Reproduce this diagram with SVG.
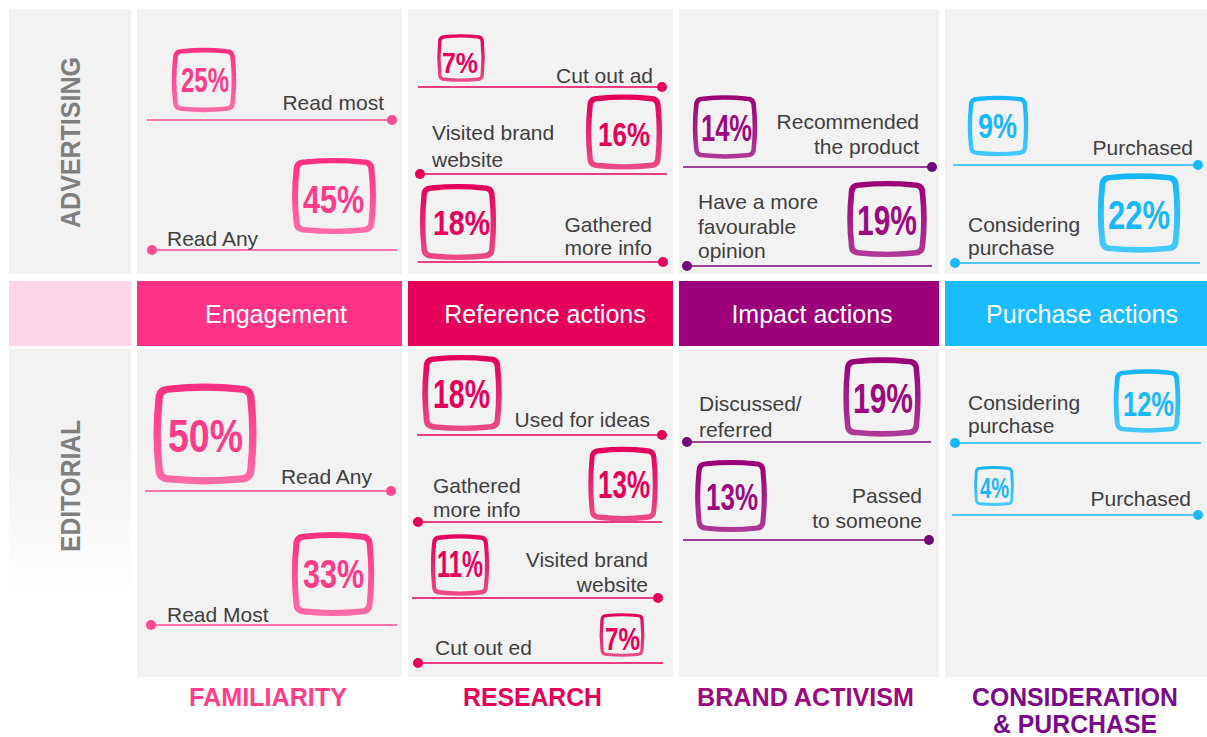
<svg xmlns="http://www.w3.org/2000/svg" xmlns:xlink="http://www.w3.org/1999/xlink" width="1207" height="737" viewBox="0 0 1207 737">
<style>
.cell{fill:#f2f2f2}
.lbl{font-family:"Liberation Sans",Arial,sans-serif;font-size:21px;fill:#404040}
.end{text-anchor:end}
.hdr{font-family:"Liberation Sans",Arial,sans-serif;font-size:25px;fill:#ffffff;text-anchor:middle}
.pct{font-family:"Liberation Sans",Arial,sans-serif;font-weight:bold}
.side{font-family:"Liberation Sans",Arial,sans-serif;font-weight:bold;font-size:28px;fill:#7f7f7f}
.cat{font-family:"Liberation Sans",Arial,sans-serif;font-weight:bold;font-size:25px}
.pk{stroke:#ff4a93;fill:none;stroke-width:1.6}
.rd{stroke:#e5005a;fill:none;stroke-width:1.6}
.pu{stroke:#780a7e;fill:none;stroke-width:1.6}
.bl{stroke:#1ab8f8;fill:none;stroke-width:1.6}
.dpk{fill:#ff4a93}.drd{fill:#e5005a}.dpu{fill:#6e0a76}.dbl{fill:#1ab8f8}
.bpk{stroke:url(#gpk)}.brd{stroke:url(#grd)}.bpu{stroke:url(#gpu)}.bbl{stroke:url(#gbl)}
.tpk{fill:#ff3a8a}.trd{fill:#e5005a}.tpu{fill:#9c0a80}.tbl{fill:#1ab8f8}
</style>
<defs>
<linearGradient id="gpk" x1="0" y1="0" x2="0" y2="1"><stop offset="0" stop-color="#ff2f83"/><stop offset="1" stop-color="#ff6aa8"/></linearGradient>
<linearGradient id="grd" x1="0" y1="0" x2="0" y2="1"><stop offset="0" stop-color="#e3005a"/><stop offset="1" stop-color="#ea4a86"/></linearGradient>
<linearGradient id="gpu" x1="0" y1="0" x2="0" y2="1"><stop offset="0" stop-color="#9a0078"/><stop offset="1" stop-color="#ad3896"/></linearGradient>
<linearGradient id="gbl" x1="0" y1="0" x2="0" y2="1"><stop offset="0" stop-color="#16b6f8"/><stop offset="1" stop-color="#44c8ff"/></linearGradient>
<linearGradient id="gfade" x1="0" y1="0" x2="0" y2="1"><stop offset="0" stop-color="#f2f2f2"/><stop offset="0.3" stop-color="#f2f2f2"/><stop offset="0.75" stop-color="#ffffff"/></linearGradient>
<path id="badge" d="M -38,-50 Q 0,-54 38,-50 Q 50,-50 50,-38 Q 54,0 50,38 Q 50,50 38,50 Q 0,54 -38,50 Q -50,50 -50,38 Q -54,0 -50,-38 Q -50,-50 -38,-50 Z" fill="none" stroke-width="8"/>
</defs>
<rect width="1207" height="737" fill="#ffffff"/>

<g id="row-labels">
<rect x="9" y="9" width="122" height="265" class="cell"/>
<rect x="9" y="281" width="122" height="65" fill="#ffd6e9"/>
<rect x="9" y="349" width="122" height="328" fill="url(#gfade)"/>
<text class="side" transform="translate(80,228) rotate(-90)" textLength="171" lengthAdjust="spacingAndGlyphs">ADVERTISING</text>
<text class="side" transform="translate(80,552) rotate(-90)" textLength="132" lengthAdjust="spacingAndGlyphs">EDITORIAL</text>
</g>

<g id="headers">
<rect x="137" y="281" width="265" height="65" fill="#ff3385"/>
<rect x="408" y="281" width="265" height="65" fill="#e5005a"/>
<rect x="679" y="281" width="260" height="65" fill="#9c007a"/>
<rect x="945" y="281" width="262" height="65" fill="#1abcfe"/>
<text class="hdr" x="276" y="323">Engagement</text>
<text class="hdr" x="545" y="323">Reference actions</text>
<text class="hdr" x="812" y="323">Impact actions</text>
<text class="hdr" x="1082" y="323">Purchase actions</text>
</g>

<g id="cells">
<rect x="137" y="9" width="265" height="265" class="cell"/>
<rect x="408" y="9" width="265" height="265" class="cell"/>
<rect x="679" y="9" width="260" height="265" class="cell"/>
<rect x="945" y="9" width="262" height="265" class="cell"/>
<rect x="137" y="349" width="265" height="328" class="cell"/>
<rect x="408" y="349" width="265" height="328" class="cell"/>
<rect x="679" y="349" width="260" height="328" class="cell"/>
<rect x="945" y="349" width="262" height="328" class="cell"/>
</g>

<g id="connectors">
<line class="pk" x1="147" y1="120" x2="392" y2="120"/><circle class="dpk" cx="392" cy="120" r="5"/>
<line class="pk" x1="152" y1="250" x2="397" y2="250"/><circle class="dpk" cx="152" cy="250" r="5"/>
<line class="rd" x1="418" y1="87" x2="662" y2="87"/><circle class="drd" cx="662" cy="87" r="5"/>
<line class="rd" x1="420" y1="174" x2="667" y2="174"/><circle class="drd" cx="420" cy="174" r="5"/>
<line class="rd" x1="418" y1="262" x2="663" y2="262"/><circle class="drd" cx="663" cy="262" r="5"/>
<line class="pu" x1="683" y1="167" x2="932" y2="167"/><circle class="dpu" cx="932" cy="167" r="5"/>
<line class="pu" x1="687" y1="266" x2="932" y2="266"/><circle class="dpu" cx="687" cy="266" r="5"/>
<line class="bl" x1="953" y1="165" x2="1198" y2="165"/><circle class="dbl" cx="1198" cy="165" r="5"/>
<line class="bl" x1="955" y1="263" x2="1200" y2="263"/><circle class="dbl" cx="955" cy="263" r="5"/>
<line class="pk" x1="145" y1="491" x2="391" y2="491"/><circle class="dpk" cx="391" cy="491" r="5"/>
<line class="pk" x1="151" y1="625" x2="397" y2="625"/><circle class="dpk" cx="151" cy="625" r="5"/>
<line class="rd" x1="417" y1="435" x2="662" y2="435"/><circle class="drd" cx="662" cy="435" r="5"/>
<line class="rd" x1="418" y1="522" x2="662" y2="522"/><circle class="drd" cx="418" cy="522" r="5"/>
<line class="rd" x1="412" y1="598" x2="658" y2="598"/><circle class="drd" cx="658" cy="598" r="5"/>
<line class="rd" x1="418" y1="663" x2="663" y2="663"/><circle class="drd" cx="418" cy="663" r="5"/>
<line class="pu" x1="687" y1="442" x2="931" y2="442"/><circle class="dpu" cx="687" cy="442" r="5"/>
<line class="pu" x1="683" y1="540" x2="929" y2="540"/><circle class="dpu" cx="929" cy="540" r="5"/>
<line class="bl" x1="955" y1="443" x2="1201" y2="443"/><circle class="dbl" cx="955" cy="443" r="5"/>
<line class="bl" x1="952" y1="515" x2="1198" y2="515"/><circle class="dbl" cx="1198" cy="515" r="5"/>
</g>

<g id="adv-familiarity">
<use xlink:href="#badge" class="bpk" transform="translate(204,80) scale(0.575,0.575)"/>
<text class="pct tpk" x="181" y="92" font-size="35" textLength="48" lengthAdjust="spacingAndGlyphs">25%</text>
<text class="lbl end" x="384" y="110">Read most</text>
<use xlink:href="#badge" class="bpk" transform="translate(334,196) scale(0.75,0.68)"/>
<text class="pct tpk" x="303" y="213" font-size="39" textLength="61" lengthAdjust="spacingAndGlyphs">45%</text>
<text class="lbl" x="167" y="246">Read Any</text>
</g>

<g id="adv-research">
<use xlink:href="#badge" class="brd" transform="translate(461,58) scale(0.425,0.425)"/>
<text class="pct trd" x="442" y="73" font-size="29" textLength="36" lengthAdjust="spacingAndGlyphs">7%</text>
<text class="lbl end" x="653" y="83">Cut out ad</text>
<use xlink:href="#badge" class="brd" transform="translate(624,132) scale(0.68,0.67)"/>
<text class="pct trd" x="598" y="146" font-size="34" textLength="52" lengthAdjust="spacingAndGlyphs">16%</text>
<text class="lbl" x="432" y="140">Visited brand</text>
<text class="lbl" x="432" y="167">website</text>
<use xlink:href="#badge" class="brd" transform="translate(458,222) scale(0.68,0.68)"/>
<text class="pct trd" x="433" y="235" font-size="35" textLength="57" lengthAdjust="spacingAndGlyphs">18%</text>
<text class="lbl end" x="652" y="232">Gathered</text>
<text class="lbl end" x="652" y="255">more info</text>
</g>

<g id="adv-brand-activism">
<use xlink:href="#badge" class="bpu" transform="translate(725,127) scale(0.575,0.567)"/>
<text class="pct tpu" x="701" y="141" font-size="36" textLength="51" lengthAdjust="spacingAndGlyphs">14%</text>
<text class="lbl end" x="919" y="129">Recommended</text>
<text class="lbl end" x="919" y="154">the product</text>
<use xlink:href="#badge" class="bpu" transform="translate(887,219) scale(0.71,0.68)"/>
<text class="pct tpu" x="857" y="235" font-size="42" textLength="60" lengthAdjust="spacingAndGlyphs">19%</text>
<text class="lbl" x="698" y="209">Have a more</text>
<text class="lbl" x="698" y="234">favourable</text>
<text class="lbl" x="698" y="258">opinion</text>
</g>

<g id="adv-consideration">
<use xlink:href="#badge" class="bbl" transform="translate(998,126) scale(0.54,0.54)"/>
<text class="pct tbl" x="978" y="138" font-size="35" textLength="39" lengthAdjust="spacingAndGlyphs">9%</text>
<text class="lbl end" x="1193" y="155">Purchased</text>
<use xlink:href="#badge" class="bbl" transform="translate(1139,213) scale(0.735,0.71)"/>
<text class="pct tbl" x="1108" y="229" font-size="41" textLength="62" lengthAdjust="spacingAndGlyphs">22%</text>
<text class="lbl" x="968" y="232">Considering</text>
<text class="lbl" x="968" y="255">purchase</text>
</g>

<g id="ed-familiarity">
<use xlink:href="#badge" class="bpk" transform="translate(205,434) scale(0.92,0.9)"/>
<text class="pct tpk" x="168" y="452" font-size="47" textLength="75" lengthAdjust="spacingAndGlyphs">50%</text>
<text class="lbl end" x="372" y="484">Read Any</text>
<use xlink:href="#badge" class="bpk" transform="translate(333,574) scale(0.735,0.75)"/>
<text class="pct tpk" x="303" y="588" font-size="40" textLength="61" lengthAdjust="spacingAndGlyphs">33%</text>
<text class="lbl" x="167" y="622">Read Most</text>
</g>

<g id="ed-research">
<use xlink:href="#badge" class="brd" transform="translate(462,393) scale(0.71,0.68)"/>
<text class="pct trd" x="433" y="408" font-size="40" textLength="57" lengthAdjust="spacingAndGlyphs">18%</text>
<text class="lbl end" x="650" y="427">Used for ideas</text>
<use xlink:href="#badge" class="brd" transform="translate(623,484) scale(0.62,0.665)"/>
<text class="pct trd" x="598" y="498" font-size="38" textLength="52" lengthAdjust="spacingAndGlyphs">13%</text>
<text class="lbl" x="433" y="493">Gathered</text>
<text class="lbl" x="433" y="517">more info</text>
<use xlink:href="#badge" class="brd" transform="translate(460,565) scale(0.52,0.55)"/>
<text class="pct trd" x="437" y="577" font-size="36" textLength="46" lengthAdjust="spacingAndGlyphs">11%</text>
<text class="lbl end" x="648" y="567">Visited brand</text>
<text class="lbl end" x="648" y="592">website</text>
<use xlink:href="#badge" class="brd" transform="translate(622,635) scale(0.4,0.39)"/>
<text class="pct trd" x="605" y="650" font-size="31" textLength="35" lengthAdjust="spacingAndGlyphs">7%</text>
<text class="lbl" x="435" y="655">Cut out ed</text>
</g>

<g id="ed-brand-activism">
<use xlink:href="#badge" class="bpu" transform="translate(882,397) scale(0.69,0.71)"/>
<text class="pct tpu" x="853" y="413" font-size="42" textLength="60" lengthAdjust="spacingAndGlyphs">19%</text>
<text class="lbl" x="699" y="411">Discussed/</text>
<text class="lbl" x="699" y="437">referred</text>
<use xlink:href="#badge" class="bpu" transform="translate(731,496) scale(0.64,0.645)"/>
<text class="pct tpu" x="706" y="510" font-size="36" textLength="52" lengthAdjust="spacingAndGlyphs">13%</text>
<text class="lbl end" x="922" y="503">Passed</text>
<text class="lbl end" x="922" y="528">to someone</text>
</g>

<g id="ed-consideration">
<use xlink:href="#badge" class="bbl" transform="translate(1147,401) scale(0.595,0.567)"/>
<text class="pct tbl" x="1123" y="416" font-size="35" textLength="51" lengthAdjust="spacingAndGlyphs">12%</text>
<text class="lbl" x="968" y="410">Considering</text>
<text class="lbl" x="968" y="433">purchase</text>
<use xlink:href="#badge" class="bbl" transform="translate(994,486) scale(0.355,0.355)"/>
<text class="pct tbl" x="980" y="498" font-size="29" textLength="29" lengthAdjust="spacingAndGlyphs">4%</text>
<text class="lbl end" x="1191" y="506">Purchased</text>
</g>

<g id="categories">
<text class="cat" x="189" y="706" fill="#ff3d8b" textLength="158" lengthAdjust="spacingAndGlyphs">FAMILIARITY</text>
<text class="cat" x="463" y="706" fill="#e5005a" textLength="139" lengthAdjust="spacingAndGlyphs">RESEARCH</text>
<text class="cat" x="697" y="706" fill="#9c0a80" textLength="217" lengthAdjust="spacingAndGlyphs">BRAND ACTIVISM</text>
<text class="cat" x="972" y="706" fill="#7a0a8c" textLength="206" lengthAdjust="spacingAndGlyphs">CONSIDERATION</text>
<text class="cat" x="993" y="733" fill="#7a0a8c" font-size="24" textLength="164" lengthAdjust="spacingAndGlyphs">&amp; PURCHASE</text>
</g>
</svg>
